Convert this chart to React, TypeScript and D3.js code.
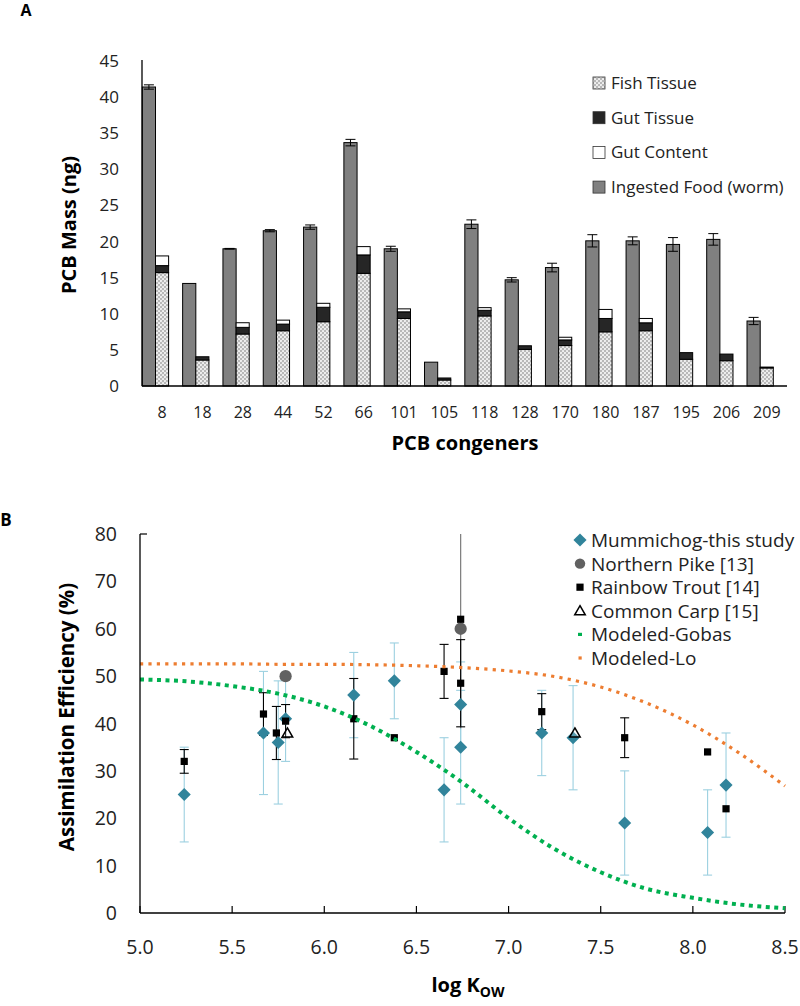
import React from 'react';
import * as d3 from 'd3';

// ---------- Panel A data ----------
const congeners = ['8', '18', '28', '44', '52', '66', '101', '105', '118', '128', '170', '180', '187', '195', '206', '209'];
const ingestedFood = [41.4, 14.2, 19.0, 21.5, 22.0, 33.7, 19.0, 3.3, 22.4, 14.7, 16.4, 20.1, 20.1, 19.6, 20.3, 9.0];
const ingestedErr = [0.3, 0, 0.05, 0.15, 0.3, 0.45, 0.35, 0, 0.6, 0.3, 0.6, 0.85, 0.55, 0.95, 0.8, 0.5];
const fishTissue = [15.7, 3.6, 7.2, 7.65, 8.9, 15.6, 9.35, 0.83, 9.7, 5.07, 5.6, 7.5, 7.65, 3.7, 3.5, 2.5];
const gutTissue = [0.97, 0.45, 0.92, 0.92, 2.0, 2.55, 0.92, 0.28, 0.78, 0.5, 0.78, 1.85, 1.1, 0.92, 0.92, 0.12];
const gutContent = [1.34, 0, 0.64, 0.55, 0.55, 1.15, 0.41, 0, 0.37, 0, 0.37, 1.25, 0.6, 0, 0, 0];
const yTicksA = [0, 5, 10, 15, 20, 25, 30, 35, 40, 45];
const legendA = ['Fish Tissue', 'Gut Tissue', 'Gut Content', 'Ingested Food (worm)'];

// ---------- Panel B data ----------
const mummiLogK = [5.24, 5.67, 5.75, 5.79, 6.16, 6.38, 6.65, 6.74, 6.74, 7.18, 7.35, 7.63, 8.08, 8.18];
const mummiAE = [25, 38, 36, 41, 46, 49, 26, 44, 35, 38, 37, 19, 17, 27];
const mummiErr = [10, 13, 13, 9, 9, 8, 11, 9, 12, 9, 11, 11, 9, 11];

const pikeLogK = [5.79, 6.74];
const pikeAE = [50, 60];
const pikeErr = [0, 21];

const troutLogK = [5.24, 5.67, 5.74, 5.79, 6.16, 6.38, 6.65, 6.74, 6.74, 7.18, 7.63, 8.08, 8.18];
const troutAE = [32, 42, 38, 40.5, 41, 37, 51, 62, 48.5, 42.5, 37, 34, 22];
const troutErr = [2.5, 4.5, 5.6, 3.5, 8.5, 0, 5.7, 0, 9.2, 3.8, 4.2, 0, 0];

const carpLogK = [5.8, 7.36];
const carpAE = [38, 38];

const modelLogK = [5.0, 5.25, 5.5, 5.75, 6.0, 6.25, 6.5, 6.75, 7.0, 7.25, 7.5, 7.75, 8.0, 8.25, 8.5];
const gobasAE = [49.3, 48.9, 47.9, 46.3, 43.6, 39.5, 34.0, 27.5, 20.0, 13.5, 8.6, 5.1, 3.2, 1.8, 1.0];
const loAE = [52.6, 52.6, 52.6, 52.5, 52.5, 52.4, 52.2, 51.8, 51.1, 49.9, 47.7, 44.3, 39.7, 33.8, 26.8];

const xTicksB = [5.0, 5.5, 6.0, 6.5, 7.0, 7.5, 8.0, 8.5];
const yTicksB = [0, 10, 20, 30, 40, 50, 60, 70, 80];
const legendB = ['Mummichog-this study', 'Northern Pike [13]', 'Rainbow Trout [14]', 'Common Carp [15]', 'Modeled-Gobas', 'Modeled-Lo'];

const FONT = "'Open Sans', 'DejaVu Sans', sans-serif";
const TEAL = '#31849B';
const LIGHTBLUE = '#9CD0E0';
const GREEN = '#00B050';
const ORANGE = '#ED7D31';
const PIKE = '#616161';

export default function App() {
  // ---- scales A ----
  const xA = d3.scaleBand<string>().domain(congeners).range([142, 787]).paddingInner(0).paddingOuter(0);
  const yA = d3.scaleLinear().domain([0, 45]).range([386, 61]);
  const bw = xA.bandwidth();
  const g0 = bw * 0.008;
  const g1 = bw * 0.335;
  const s1 = bw * 0.66;

  // ---- scales B ----
  const xB = d3.scaleLinear().domain([5, 8.5]).range([140, 785]);
  const yB = d3.scaleLinear().domain([0, 80]).range([913, 534]);

  const diamond = d3.symbol().type(d3.symbolSquare).size(86)();
  const circle = d3.symbol().type(d3.symbolCircle).size(118)();
  const square = d3.symbol().type(d3.symbolSquare).size(52)();
  const triangle = d3.symbol().type(d3.symbolTriangle).size(48)();

  const line = d3
    .line<number>()
    .x((_, i) => xB(modelLogK[i]))
    .y((d) => yB(d))
    .curve(d3.curveMonotoneX);

  const errBar = (x: number, y: number, e: number, color: string, cap: number, key: string) => {
    if (!e) return null;
    return (
      <g key={key} stroke={color} strokeWidth={1.1}>
        <line x1={x} x2={x} y1={yB(y - e)} y2={yB(y + e)} />
        <line x1={x - cap} x2={x + cap} y1={yB(y - e)} y2={yB(y - e)} />
        <line x1={x - cap} x2={x + cap} y1={yB(y + e)} y2={yB(y + e)} />
      </g>
    );
  };

  return (
    <svg
      width={800}
      height={1006}
      style={{ position: 'absolute', left: 0, top: 0, background: '#fff' }}
      fontFamily={FONT}
    >
      <defs>
        <pattern id="fishPat" width="4" height="4" patternUnits="userSpaceOnUse">
          <rect width="4" height="4" fill="#b8b8b8" />
          <circle cx="1" cy="1" r="1.05" fill="#f4f4f4" />
          <circle cx="3" cy="3" r="1.05" fill="#f4f4f4" />
        </pattern>
        <clipPath id="clipB">
          <rect x={140} y={534} width={650} height={379} />
        </clipPath>
      </defs>

      {/* ================= Panel A ================= */}
      <text x={26} y={16} fontSize={16} fontWeight="bold" textAnchor="middle">A</text>

      {/* y tick labels */}
      {yTicksA.map((t) => (
        <text key={'ya' + t} x={119} y={yA(t) + 6} fontSize={17} textAnchor="end" fill="#222">
          {t}
        </text>
      ))}
      <text
        transform={`translate(76,225) rotate(-90)`}
        fontSize={20}
        fontWeight="bold"
        textAnchor="middle"
      >
        PCB Mass (ng)
      </text>

      {/* bars */}
      {congeners.map((c, i) => {
        const bx = xA(c)!;
        const f0 = yA(0);
        const f1 = yA(fishTissue[i]);
        const t1 = yA(fishTissue[i] + gutTissue[i]);
        const c1 = yA(fishTissue[i] + gutTissue[i] + gutContent[i]);
        const gx = bx + (g0 + g1) / 2;
        const top = yA(ingestedFood[i]);
        const e = ingestedErr[i];
        return (
          <g key={'grp' + c}>
            <rect x={bx + g0} y={top} width={g1 - g0} height={f0 - top} fill="#808080" stroke="#000" strokeWidth={1} />
            <rect x={bx + g1} y={f1} width={s1 - g1} height={f0 - f1} fill="url(#fishPat)" stroke="#000" strokeWidth={1} />
            {gutTissue[i] > 0 && (
              <rect x={bx + g1} y={t1} width={s1 - g1} height={f1 - t1} fill="#262626" stroke="#000" strokeWidth={1} />
            )}
            {gutContent[i] > 0 && (
              <rect x={bx + g1} y={c1} width={s1 - g1} height={t1 - c1} fill="#fff" stroke="#000" strokeWidth={1} />
            )}
            {e > 0 && (
              <g stroke="#000" strokeWidth={1}>
                <line x1={gx} x2={gx} y1={yA(ingestedFood[i] - e)} y2={yA(ingestedFood[i] + e)} />
                <line x1={gx - 5} x2={gx + 5} y1={yA(ingestedFood[i] - e)} y2={yA(ingestedFood[i] - e)} />
                <line x1={gx - 5} x2={gx + 5} y1={yA(ingestedFood[i] + e)} y2={yA(ingestedFood[i] + e)} />
              </g>
            )}
          </g>
        );
      })}

      {/* axes A */}
      <line x1={142} x2={142} y1={60} y2={386} stroke="#000" strokeWidth={1.3} />
      <line x1={142} x2={787} y1={386} y2={386} stroke="#000" strokeWidth={1.3} />

      {congeners.map((c) => (
        <text key={'xa' + c} x={xA(c)! + bw / 2} y={418} fontSize={16} textAnchor="middle" fill="#222">
          {c}
        </text>
      ))}
      <text x={465} y={450} fontSize={20} fontWeight="bold" textAnchor="middle">
        PCB congeners
      </text>

      {/* legend A */}
      {legendA.map((name, i) => {
        const cy = 83 + i * 34.7;
        const fills = ['url(#fishPat)', '#262626', '#fff', '#808080'];
        return (
          <g key={'la' + i}>
            <rect x={593} y={cy - 6} width={12} height={12} fill={fills[i]} stroke="#333" strokeWidth={0.8} />
            <text x={611} y={cy + 6} fontSize={17} fill="#222">
              {name}
            </text>
          </g>
        );
      })}

      {/* ================= Panel B ================= */}
      <text x={6} y={526} fontSize={17} fontWeight="bold" textAnchor="middle">B</text>

      {yTicksB.map((t) => (
        <text key={'yb' + t} x={117} y={yB(t) + 7} fontSize={19.5} textAnchor="end" fill="#222">
          {t}
        </text>
      ))}
      {xTicksB.map((t) => (
        <g key={'xb' + t}>
          <line x1={xB(t)} x2={xB(t)} y1={913} y2={906} stroke="#000" strokeWidth={1.2} />
          <text x={xB(t)} y={954} fontSize={19.5} textAnchor="middle" fill="#222">
            {t.toFixed(1)}
          </text>
        </g>
      ))}
      <text
        transform={`translate(74,717) rotate(-90)`}
        fontSize={20.5}
        fontWeight="bold"
        textAnchor="middle"
      >
        Assimilation Efficiency (%)
      </text>
      <text x={468} y={992} fontSize={20} fontWeight="bold" textAnchor="middle">
        log K<tspan fontSize={14} dy={5}>OW</tspan>
      </text>

      {/* error bars */}
      <g clipPath="url(#clipB)">
        {mummiLogK.map((k, i) => errBar(xB(k), mummiAE[i], mummiErr[i], LIGHTBLUE, 4.5, 'me' + i))}
        {pikeLogK.map((k, i) =>
          pikeErr[i] ? (
            <line
              key={'pe' + i}
              x1={xB(k)}
              x2={xB(k)}
              y1={yB(pikeAE[i] - pikeErr[i])}
              y2={yB(pikeAE[i] + pikeErr[i])}
              stroke="#7a7a7a"
              strokeWidth={1.2}
            />
          ) : null
        )}
        {troutLogK.map((k, i) => errBar(xB(k), troutAE[i], troutErr[i], '#000', 4.5, 'te' + i))}
      </g>

      {/* markers */}
      {mummiLogK.map((k, i) => (
        <path key={'m' + i} d={diamond!} transform={`translate(${xB(k)},${yB(mummiAE[i])}) rotate(45)`} fill={TEAL} />
      ))}
      {pikeLogK.map((k, i) => (
        <path key={'p' + i} d={circle!} transform={`translate(${xB(k)},${yB(pikeAE[i])})`} fill={PIKE} />
      ))}
      {troutLogK.map((k, i) => (
        <path key={'t' + i} d={square!} transform={`translate(${xB(k)},${yB(troutAE[i])})`} fill="#000" />
      ))}
      {carpLogK.map((k, i) => (
        <path
          key={'c' + i}
          d={triangle!}
          transform={`translate(${xB(k)},${yB(carpAE[i]) + 1})`}
          fill="#fff"
          fillOpacity={0.2}
          stroke="#000"
          strokeWidth={1.5}
        />
      ))}

      {/* model lines */}
      <g clipPath="url(#clipB)">
        <path d={line(gobasAE)!} fill="none" stroke={GREEN} strokeWidth={4} strokeDasharray="4 4.5" />
        <path d={line(loAE)!} fill="none" stroke={ORANGE} strokeWidth={3.2} strokeDasharray="3.2 5.2" />
      </g>

      {/* axes B */}
      <line x1={140} x2={140} y1={534} y2={913} stroke="#000" strokeWidth={1.3} />
      <line x1={140} x2={147} y1={534} y2={534} stroke="#000" strokeWidth={1.2} />
      <line x1={140} x2={785} y1={913} y2={913} stroke="#000" strokeWidth={1.3} />

      {/* legend B */}
      {legendB.map((name, i) => {
        const cy = 540 + i * 23.6;
        let marker: React.ReactNode = null;
        if (i === 0)
          marker = <path d={diamond!} transform={`translate(580,${cy}) rotate(45)`} fill={TEAL} />;
        else if (i === 1) marker = <path d={circle!} transform={`translate(580,${cy}) scale(0.85)`} fill={PIKE} />;
        else if (i === 2) marker = <path d={square!} transform={`translate(580,${cy})`} fill="#000" />;
        else if (i === 3)
          marker = (
            <path d={triangle!} transform={`translate(580,${cy + 1})`} fill="#fff" stroke="#000" strokeWidth={1.5} />
          );
        else if (i === 4) marker = <rect x={578} y={cy - 1.6} width={4} height={3.2} fill={GREEN} />;
        else marker = <rect x={578.5} y={cy - 1.6} width={3.2} height={3.2} fill={ORANGE} />;
        return (
          <g key={'lb' + i}>
            {marker}
            <text x={591} y={cy + 7} fontSize={19} fill="#222">
              {name}
            </text>
          </g>
        );
      })}
    </svg>
  );
}
